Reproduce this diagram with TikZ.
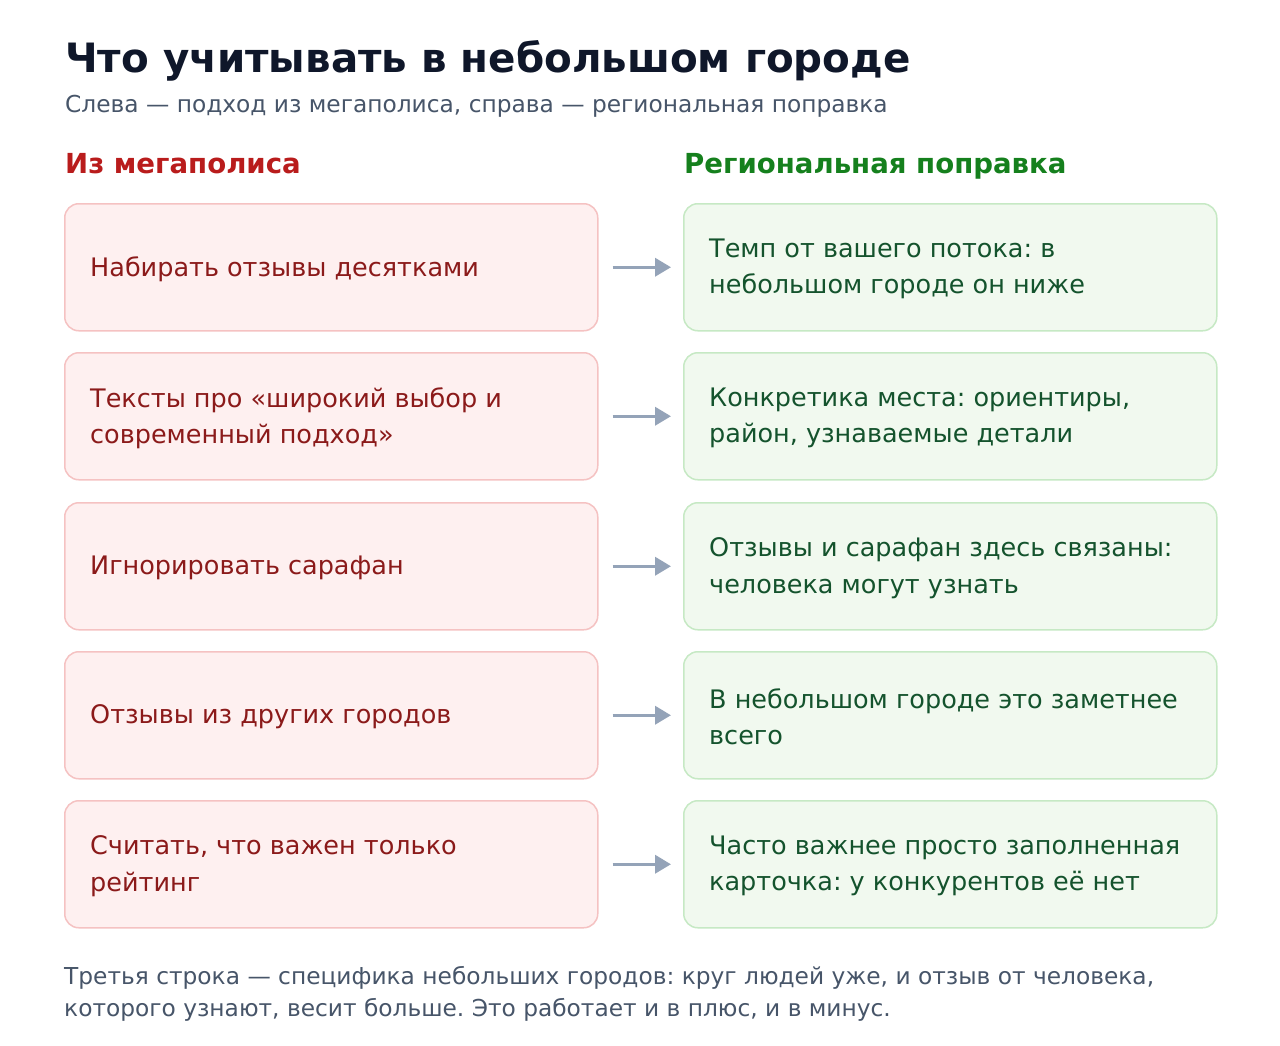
\documentclass[tikz,border=0pt]{standalone}
\usepackage{fontspec}
\setmainfont{DejaVu Sans}
\frenchspacing
\usetikzlibrary{arrows.meta}
\definecolor{titlec}{HTML}{0F172A}
\definecolor{subc}{HTML}{475569}
\definecolor{redh}{HTML}{B91C1C}
\definecolor{greenh}{HTML}{15801D}
\definecolor{lfill}{HTML}{FEF0F0}
\definecolor{ldraw}{HTML}{F5C2C2}
\definecolor{ltext}{HTML}{8B1A1A}
\definecolor{rfill}{HTML}{F1F9EF}
\definecolor{rdraw}{HTML}{C6E9C4}
\definecolor{rtext}{HTML}{14532D}
\definecolor{arrc}{HTML}{94A3B8}
\tikzset{
  lbox/.style={draw=ldraw, fill=lfill, line width=1.5pt, rounded corners=14pt, minimum width=533pt, minimum height=127pt, anchor=north west, inner sep=0pt},
  rbox/.style={draw=rdraw, fill=rfill, line width=1.5pt, rounded corners=14pt, minimum width=533pt, minimum height=127pt, anchor=north west, inner sep=0pt},
  ltxt/.style={anchor=west, align=left, text=ltext, font=\fontsize{25.5}{36.5}\selectfont, inner sep=0pt},
  rtxt/.style={anchor=west, align=left, text=rtext, font=\fontsize{25.5}{36.5}\selectfont, inner sep=0pt},
  conn/.style={draw=arrc, line width=3.5pt, -{Triangle[length=16pt,width=18pt]}},
}
\begin{document}
\begin{tikzpicture}[x=1pt,y=-1pt]
\useasboundingbox[fill=white] (0,0) rectangle (1280,1046);
\node[anchor=base west, inner sep=0pt, text=titlec, font=\fontsize{40.4}{48}\bfseries] (title) at (65,73) {Что учитывать в небольшом городе};
\node[anchor=base west, inner sep=0pt, text=subc, font=\fontsize{23.3}{28}\selectfont] (sub) at (65,113) {Слева — подход из мегаполиса, справа — региональная поправка};
\node[anchor=base west, inner sep=0pt, text=redh, font=\fontsize{27.6}{32}\bfseries] (hl) at (65,173) {Из мегаполиса};
\node[anchor=base west, inner sep=0pt, text=greenh, font=\fontsize{27.6}{32}\bfseries] (hr) at (684,173) {Региональная поправка};

\foreach \i/\y/\lt/\rt in {
 1/203/{Набирать отзывы десятками}/{Темп от вашего потока: в\\небольшом городе он ниже},
 2/352/{Тексты про «широкий выбор и\\современный подход»}/{Конкретика места: ориентиры,\\район, узнаваемые детали},
 3/502/{Игнорировать сарафан}/{Отзывы и сарафан здесь связаны:\\человека могут узнать},
 4/651/{Отзывы из других городов}/{В небольшом городе это заметнее\\всего},
 5/800/{Считать, что важен только\\рейтинг}/{Часто важнее просто заполненная\\карточка: у конкурентов её нет}} {
  \node[lbox] (l\i) at (64,\y) {};
  \node[rbox] (r\i) at (683,\y) {};
  \node[ltxt] (lt\i) at (90,\y+66) {\lt};
  \node[rtxt] (rt\i) at (709,\y+66) {\rt};
  \draw[conn] ([xshift=14pt]l\i.east) -- ([xshift=-12pt]r\i.west);
}

\node[anchor=base west, inner sep=0pt, align=left, text=subc, font=\fontsize{23.3}{32}\selectfont] (foot) at (64,1016) {Третья строка — специфика небольших городов: круг людей уже, и отзыв от человека,\\которого узнают, весит больше. Это работает и в плюс, и в минус.};
\end{tikzpicture}
\end{document}
